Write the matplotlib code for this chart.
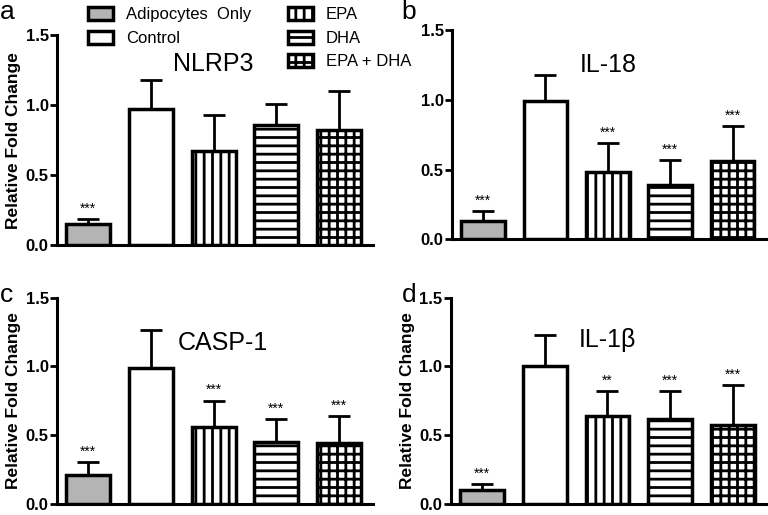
import numpy as np
import matplotlib
matplotlib.use("Agg")
import matplotlib.pyplot as plt
from matplotlib.patches import Patch

plt.rcParams['font.family'] = ['Liberation Sans', 'DejaVu Sans']
plt.rcParams['hatch.linewidth'] = 2.0

groups = ['Adipocytes  Only', 'Control', 'EPA', 'DHA', 'EPA + DHA']

# mean relative fold change and upper error (SEM) per gene
nlrp3_mean = [0.15, 0.97, 0.67, 0.86, 0.82]
nlrp3_err = [0.035, 0.21, 0.26, 0.145, 0.28]
nlrp3_sig = ['***', '', '', '', '']

il18_mean = [0.13, 0.99, 0.48, 0.39, 0.56]
il18_err = [0.075, 0.185, 0.21, 0.18, 0.25]
il18_sig = ['***', '', '***', '***', '***']

casp1_mean = [0.21, 0.985, 0.555, 0.45, 0.44]
casp1_err = [0.09, 0.28, 0.195, 0.165, 0.20]
casp1_sig = ['***', '', '***', '***', '***']

il1b_mean = [0.10, 1.0, 0.64, 0.615, 0.57]
il1b_err = [0.042, 0.23, 0.18, 0.205, 0.295]
il1b_sig = ['***', '', '**', '***', '***']

yticks = [0.0, 0.5, 1.0, 1.5]

faces = ['#b4b4b4', 'white', 'white', 'white', 'white']
hatches = [None, None, '||', '--', '++']


def draw_panel(ax, means, errs, sigs, title, tx, ty, letter, lx, ly, ylabel=True):
    x = np.arange(len(means))
    ax.bar(x, means, width=0.7, color=faces, edgecolor='black',
           linewidth=2.5, hatch=hatches, zorder=3)
    ax.errorbar(x, means, yerr=[np.zeros(len(errs)), errs], fmt='none',
                ecolor='black', elinewidth=2, capsize=8, capthick=2, zorder=2)
    for xi, m, e, s in zip(x, means, errs, sigs):
        if s:
            ax.text(xi, m + e + 0.025, s, ha='center', va='bottom', fontsize=10)
    ax.set_xlim(-0.5, 4.55)
    ax.set_ylim(0, 1.5)
    ax.set_yticks(yticks)
    ax.set_yticklabels(['0.0', '0.5', '1.0', '1.5'], fontweight='bold', fontsize=12)
    ax.set_xticks([])
    ax.spines['top'].set_visible(False)
    ax.spines['right'].set_visible(False)
    ax.spines['left'].set_linewidth(2.2)
    ax.spines['bottom'].set_linewidth(2.2)
    ax.tick_params(axis='y', width=2, length=5, pad=1)
    if ylabel:
        ax.set_ylabel('Relative Fold Change', fontweight='bold', fontsize=12.5, labelpad=3)
    ax.text(tx, ty, title, ha='center', va='center', fontsize=18)
    ax.figure.text(lx, ly, letter, fontsize=19, ha='left', va='top')


fig = plt.figure(figsize=(7.68, 5.15), dpi=100)
ax_a = fig.add_axes([0.0742, 0.524, 0.412, 0.408])
ax_b = fig.add_axes([0.5885, 0.535, 0.41, 0.407])
ax_c = fig.add_axes([0.0742, 0.022, 0.412, 0.40])
ax_d = fig.add_axes([0.587, 0.022, 0.412, 0.40])

draw_panel(ax_a, nlrp3_mean, nlrp3_err, nlrp3_sig, 'NLRP3', 2.0, 1.29, 'a', 0.0, 1.0)
draw_panel(ax_b, il18_mean, il18_err, il18_sig, 'IL-18', 2.0, 1.25, 'b', 0.522, 1.0,
           ylabel=False)
draw_panel(ax_c, casp1_mean, casp1_err, casp1_sig, 'CASP-1', 2.15, 1.17, 'c', 0.0, 0.45)
draw_panel(ax_d, il1b_mean, il1b_err, il1b_sig, 'IL-1β', 2.0, 1.19, 'd', 0.523, 0.45)

handles = [Patch(facecolor=f, edgecolor='black', linewidth=2.5, hatch=h)
           for f, h in zip(faces, hatches)]
fig.legend(handles[:2], groups[:2], loc='upper left',
           bbox_to_anchor=(0.095, 1.015), frameon=False, fontsize=12,
           handlelength=1.5, handleheight=0.8, labelspacing=0.5,
           handletextpad=0.8)
fig.legend(handles[2:], groups[2:], loc='upper left',
           bbox_to_anchor=(0.355, 1.015), frameon=False, fontsize=12,
           handlelength=1.5, handleheight=0.8, labelspacing=0.5,
           handletextpad=0.8)

fig.savefig('out.png', dpi=100)
